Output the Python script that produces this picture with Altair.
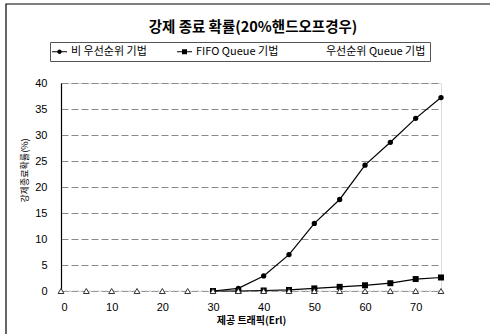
import altair as alt
import pandas as pd

# ---- data ----
traffic = [0, 5, 10, 15, 20, 25, 30, 35, 40, 45, 50, 55, 60, 65, 70, 75]
non_priority = [None, None, None, None, None, None, 0, 0.5, 2.9, 7.0, 13.0, 17.6, 24.2, 28.6, 33.2, 37.2]
fifo_queue = [None, None, None, None, None, None, 0, 0, 0.1, 0.2, 0.5, 0.8, 1.1, 1.5, 2.3, 2.6]
priority_queue = [0, 0, 0, 0, 0, 0, 0, 0, 0, 0, 0, 0, 0, 0, 0, 0]
series_names = ["비 우선순위 기법", "FIFO Queue 기법", "우선순위 Queue 기법"]
chart_title = "강제 종료 확률(20%핸드오프경우)"
x_ticks = [0, 10, 20, 30, 40, 50, 60, 70]
y_ticks = [0, 5, 10, 15, 20, 25, 30, 35, 40]

rows = []
for name, vals in zip(series_names, [non_priority, fifo_queue, priority_queue]):
    for t, v in zip(traffic, vals):
        if v is not None:
            rows.append({"traffic": t, "value": v, "series": name})
df = pd.DataFrame(rows)

KFONT = "Noto Sans CJK KR"
NFONT = "Liberation Sans"

x_enc = alt.X("traffic:Q", scale=alt.Scale(domain=[0, 75], nice=False),
              axis=alt.Axis(values=x_ticks, title="제공 트래픽(Erl)", grid=False, ticks=False,
                            domain=False, labelFont=NFONT, labelFontSize=11, labelColor="black",
                            labelPadding=10, titleFont=KFONT, titleFontSize=10, titleFontWeight="bold",
                            titleColor="black", titlePadding=3))
y_enc = alt.Y("value:Q", scale=alt.Scale(domain=[0, 40], nice=False),
              axis=alt.Axis(values=y_ticks, title="강제종료확률(%)", grid=True, gridColor="#8a8a8a",
                            gridDash=[7, 3], gridWidth=1, ticks=False, domain=True, domainColor="black",
                            domainWidth=1.2, labelFont=NFONT, labelFontSize=11, labelColor="black",
                            labelPadding=14, labelOverlap=False, titleFont=KFONT, titleFontSize=9,
                            titleFontWeight="normal", titleColor="black", titleX=-37, titleY=87,
                            titleAngle=270, titleAlign="center", titleBaseline="middle"))

base = alt.Chart(df).encode(x=x_enc, y=y_enc)

lines_main = base.transform_filter(
    alt.FieldOneOfPredicate(field="series", oneOf=series_names[:2])
).mark_line(color="black", strokeWidth=1.2).encode(detail="series:N")

line_pq = base.transform_filter(
    alt.FieldEqualPredicate(field="series", equal=series_names[2])
).mark_line(color="#c8c8c8", strokeWidth=1, strokeDash=[2, 2])

pts_np = base.transform_filter(
    alt.FieldEqualPredicate(field="series", equal=series_names[0])
).mark_point(shape="circle", filled=True, color="black", size=28, opacity=1)

pts_fifo = base.transform_filter(
    alt.FieldEqualPredicate(field="series", equal=series_names[1])
).mark_point(shape="square", filled=True, color="black", size=36, opacity=1)

pts_pq = base.transform_filter(
    alt.FieldEqualPredicate(field="series", equal=series_names[2])
).mark_point(shape="triangle-up", filled=True, fill="white", stroke="#333", strokeWidth=1,
             size=34, opacity=1)

# legend symbols: thin bar (line) + marker, drawn as filled paths
legend_paths = [
    "M-1.5,-0.1H1.5V0.1H-1.5ZM-0.45,0A0.45,0.45,0,1,1,0.45,0A0.45,0.45,0,1,1,-0.45,0Z",
    "M-1.5,-0.1H1.5V0.1H-1.5ZM-0.5,-0.5H0.5V0.5H-0.5Z",
    "M0,0",
]
legend_layer = base.mark_point(filled=True, color="black", opacity=0).encode(
    shape=alt.Shape("series:N", sort=series_names,
                    scale=alt.Scale(domain=series_names, range=legend_paths),
                    legend=alt.Legend(title=None, orient="none", legendX=-11, legendY=-41,
                                      direction="horizontal", symbolSize=100, symbolOpacity=1,
                                      symbolFillColor="black", symbolStrokeColor="black",
                                      symbolStrokeWidth=0,
                                      labelFont=KFONT, labelFontSize=11, labelColor="black",
                                      labelOffset=6, labelLimit=400, columnPadding=30,
                                      padding=4, strokeColor="#555", fillColor="white"))
)

frame = alt.Chart(alt.Data(values=[{}])).mark_rect(
    fill=None, stroke="black", strokeWidth=1.2
).encode(x=alt.value(-55), x2=alt.value(470), y=alt.value(-79), y2=alt.value(270))

title_text = alt.Chart(alt.Data(values=[{"t": chart_title}])).mark_text(
    font=KFONT, fontSize=14.5, fontWeight="bold", color="black", align="center", baseline="middle"
).encode(text="t:N", x=alt.value(192), y=alt.value(-55))

chart = alt.layer(
    frame, title_text, line_pq, lines_main, pts_np, pts_fifo, pts_pq, legend_layer
).properties(
    width=380, height=208,
    autosize=alt.AutoSizeParams(type="none"),
    padding={"left": 61, "top": 83, "right": 49, "bottom": 43},
).configure_view(
    stroke="#555", strokeWidth=1
).configure(background="white")

chart.save("out.html", embed_options={"renderer": "svg", "actions": False})
